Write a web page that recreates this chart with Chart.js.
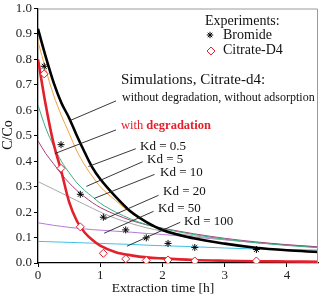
<!DOCTYPE html>
<html>
<head>
<meta charset="utf-8">
<script src="https://cdn.jsdelivr.net/npm/chart.js@4.4.1/dist/chart.umd.min.js"></script>
<style>
  body { margin: 0; background: #fff; }
  #caja { width: 323px; height: 294px; }
</style>
</head>
<body>
<div id="caja"><canvas id="grafico"></canvas></div>
<script>
// Datos
const tExp = [0.1, 0.37, 0.68, 1.05, 1.41, 1.74, 2.09, 2.52, 3.51];
const bromuro = [0.773, 0.465, 0.27, 0.18, 0.13, 0.099, 0.077, 0.061, 0.053];
const citrato = [0.743, 0.372, 0.142, 0.038, 0.016, 0.01, 0.012, 0.008, 0.008];

const tSim = [0, 0.125, 0.25, 0.375, 0.5, 0.625, 0.75, 0.875, 1.0, 1.25, 1.5, 1.75, 2, 2.5, 3, 3.5, 4, 4.5];
const sinDegradacion = [0.92, 0.81, 0.71, 0.63, 0.57, 0.50, 0.435, 0.375, 0.33, 0.26, 0.20, 0.16, 0.13, 0.097, 0.076, 0.06, 0.05, 0.043];
const conDegradacion = [0.80, 0.62, 0.47, 0.36, 0.24, 0.165, 0.12, 0.09, 0.068, 0.042, 0.03, 0.022, 0.018, 0.012, 0.009, 0.007, 0.006, 0.005];
const kd05 = [0.87, 0.76, 0.66, 0.58, 0.51, 0.44, 0.385, 0.34, 0.30, 0.245, 0.195, 0.158, 0.13, 0.096, 0.075, 0.059, 0.049, 0.042];
const kd5 = [0.62, 0.53, 0.46, 0.40, 0.355, 0.315, 0.285, 0.26, 0.235, 0.20, 0.172, 0.15, 0.135, 0.112, 0.094, 0.08, 0.069, 0.06];
const kd10 = [0.48, 0.43, 0.39, 0.35, 0.315, 0.285, 0.26, 0.237, 0.218, 0.19, 0.167, 0.15, 0.137, 0.115, 0.097, 0.083, 0.072, 0.063];
const kd20 = [0.32, 0.305, 0.29, 0.275, 0.26, 0.245, 0.23, 0.215, 0.20, 0.175, 0.155, 0.138, 0.125, 0.107, 0.092, 0.08, 0.07, 0.062];
const kd50 = [0.158, 0.153, 0.148, 0.144, 0.140, 0.137, 0.134, 0.131, 0.129, 0.125, 0.121, 0.116, 0.112, 0.102, 0.091, 0.08, 0.071, 0.064];
const kd100 = [0.085, 0.084, 0.083, 0.082, 0.081, 0.080, 0.079, 0.078, 0.077, 0.075, 0.073, 0.07, 0.068, 0.064, 0.059, 0.055, 0.053, 0.051];

// Líneas guía de las etiquetas (en unidades de datos: x1, y1, x2, y2)
const guias = [
  [1.254, 0.637, 0.508, 0.559],
  [1.254, 0.523, 0.27, 0.43],
  [1.571, 0.449, 0.81, 0.379],
  [1.683, 0.398, 0.778, 0.301],
  [1.873, 0.348, 0.905, 0.254],
  [1.937, 0.266, 1.063, 0.172],
  [1.857, 0.203, 1.063, 0.117],
  [2.286, 0.16, 1.429, 0.066]
];

const FUENTE = '"Liberation Serif", "Times New Roman", serif';
const ROJO = '#e3202b';

function puntos(xs, ys) {
  return xs.map((x, i) => ({ x: x, y: ys[i] }));
}

function curva(valores, color, ancho) {
  return {
    data: puntos(tSim, valores),
    borderColor: color,
    borderWidth: ancho,
    pointRadius: 0,
    fill: false,
    cubicInterpolationMode: 'monotone'
  };
}

// Dibujar textos, marco y líneas guía
const notas = {
  id: 'notas',
  afterDraw(chart) {
    const ctx = chart.ctx;
    const a = chart.chartArea;
    const sx = chart.scales.x, sy = chart.scales.y;
    ctx.save();

    // marco gris arriba y a la derecha
    ctx.strokeStyle = '#9a9a9a';
    ctx.lineWidth = 1;
    ctx.beginPath();
    ctx.moveTo(a.left, a.top + 0.5);
    ctx.lineTo(a.right - 0.5, a.top + 0.5);
    ctx.lineTo(a.right - 0.5, a.bottom);
    ctx.stroke();

    // líneas guía
    ctx.strokeStyle = '#222';
    ctx.lineWidth = 0.9;
    guias.forEach(g => {
      ctx.beginPath();
      ctx.moveTo(sx.getPixelForValue(g[0]), sy.getPixelForValue(g[1]));
      ctx.lineTo(sx.getPixelForValue(g[2]), sy.getPixelForValue(g[3]));
      ctx.stroke();
    });

    ctx.textBaseline = 'middle';
    ctx.textAlign = 'left';
    ctx.fillStyle = '#111';

    // leyenda de experimentos
    ctx.font = '14px ' + FUENTE;
    ctx.fillText('Experiments:', 205, 21);
    ctx.fillText('Bromide', 223, 35);
    ctx.fillText('Citrate-D4', 223, 50);

    // asterisco
    ctx.strokeStyle = '#000';
    ctx.lineWidth = 1;
    const ax = 210, ay = 35, r = 3.2;
    ctx.beginPath();
    ctx.moveTo(ax - r, ay); ctx.lineTo(ax + r, ay);
    ctx.moveTo(ax, ay - r); ctx.lineTo(ax, ay + r);
    ctx.moveTo(ax - r * 0.7, ay - r * 0.7); ctx.lineTo(ax + r * 0.7, ay + r * 0.7);
    ctx.moveTo(ax - r * 0.7, ay + r * 0.7); ctx.lineTo(ax + r * 0.7, ay - r * 0.7);
    ctx.stroke();

    // rombo
    ctx.strokeStyle = ROJO;
    ctx.lineWidth = 1;
    const dx = 211, dy = 51, d = 4;
    ctx.beginPath();
    ctx.moveTo(dx, dy - d); ctx.lineTo(dx + d, dy); ctx.lineTo(dx, dy + d); ctx.lineTo(dx - d, dy);
    ctx.closePath();
    ctx.stroke();

    // textos de simulaciones
    ctx.fillStyle = '#111';
    ctx.font = '15px ' + FUENTE;
    ctx.fillText('Simulations, Citrate-d4:', 121, 80);
    ctx.font = '12px ' + FUENTE;
    ctx.fillText('without degradation, without adsorption', 122, 98);

    ctx.fillStyle = ROJO;
    ctx.font = '12.5px ' + FUENTE;
    ctx.fillText('with ', 121, 126);
    const w = ctx.measureText('with ').width;
    ctx.font = 'bold 12.5px ' + FUENTE;
    ctx.fillText('degradation', 121 + w, 126);

    ctx.fillStyle = '#111';
    ctx.font = '13px ' + FUENTE;
    ctx.fillText('Kd = 0.5', 140, 147);
    ctx.fillText('Kd = 5', 147, 160);
    ctx.fillText('Kd = 10', 160, 173);
    ctx.fillText('Kd = 20', 163, 192);
    ctx.fillText('Kd = 50', 158, 209);
    ctx.fillText('Kd = 100', 184, 222);

    // títulos de ejes
    ctx.font = '13.5px ' + FUENTE;
    ctx.textAlign = 'center';
    ctx.fillText('Extraction time [h]', 163, 288);
    ctx.translate(8, 135);
    ctx.rotate(-Math.PI / 2);
    ctx.font = '14px ' + FUENTE;
    ctx.fillText('C/Co', 0, 0);

    ctx.restore();
  }
};

new Chart(document.getElementById('grafico'), {
  type: 'line',
  data: {
    datasets: [
      {
        data: puntos(tExp, bromuro),
        showLine: false,
        pointStyle: 'star',
        pointRadius: 3.5,
        borderColor: '#000',
        borderWidth: 1,
        backgroundColor: '#000'
      },
      {
        data: puntos(tExp, citrato),
        showLine: false,
        pointStyle: 'rectRot',
        pointRadius: 4,
        borderColor: ROJO,
        borderWidth: 1,
        backgroundColor: '#fff'
      },
      curva(conDegradacion, ROJO, 2.6),
      curva(sinDegradacion, '#000', 2.6),
      curva(kd05, '#f2a03c', 1),
      curva(kd5, '#3fae82', 1),
      curva(kd10, '#a83c7c', 1),
      curva(kd20, '#a8a8a8', 1),
      curva(kd50, '#b57ad8', 1),
      curva(kd100, '#3fc2e6', 1)
    ]
  },
  options: {
    responsive: true,
    maintainAspectRatio: false,
    animation: false,
    layout: { padding: { top: 7, right: 2, left: 0, bottom: 0 } },
    plugins: {
      legend: { display: false },
      tooltip: { enabled: false }
    },
    scales: {
      x: {
        type: 'linear',
        min: 0,
        max: 4.5,
        ticks: {
          stepSize: 1,
          includeBounds: false,
          padding: 1,
          color: '#222',
          font: { family: FUENTE, size: 13 },
          maxRotation: 0
        },
        grid: { drawOnChartArea: false, tickLength: 4, color: '#000' },
        border: { color: '#000', width: 1.3 },
        afterFit: function(scale) { scale.height = 31; }
      },
      y: {
        min: 0,
        max: 1,
        ticks: {
          stepSize: 0.1,
          padding: 2,
          color: '#222',
          font: { family: FUENTE, size: 13, lineHeight: 1 },
          callback: v => v.toFixed(1)
        },
        grid: { drawOnChartArea: false, tickLength: 4, color: '#000' },
        border: { color: '#000', width: 1.3 },
        afterFit: function(scale) { scale.width = 38; }
      }
    }
  },
  plugins: [notas]
});
</script>
</body>
</html>
